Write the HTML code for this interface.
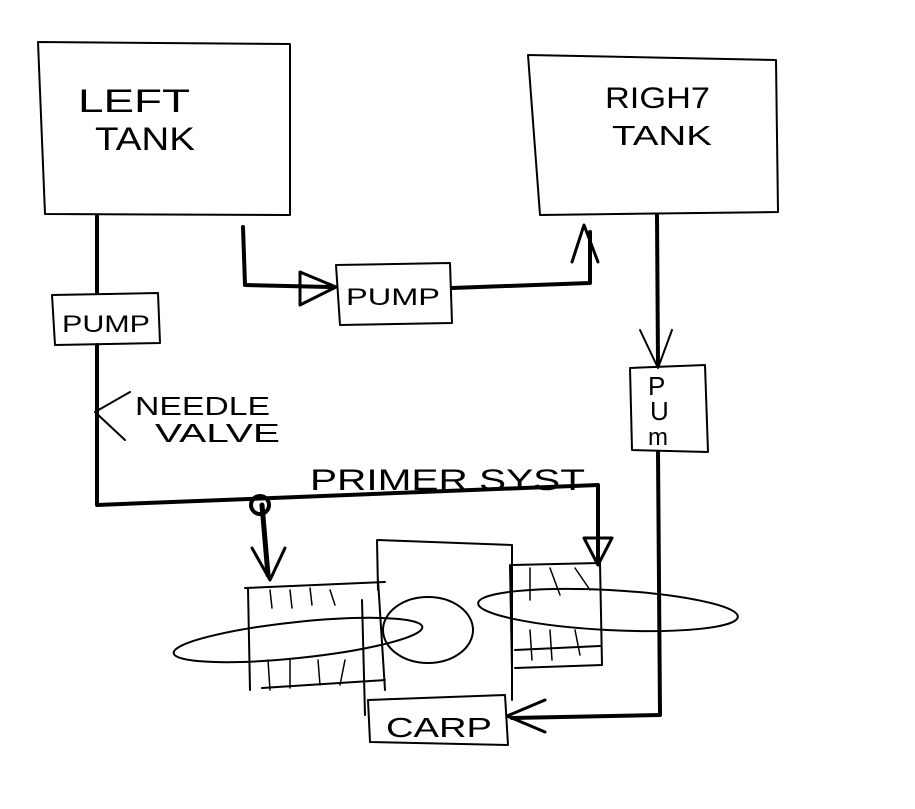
<!DOCTYPE html>
<html><head><style>
html,body{margin:0;padding:0;background:#fff;width:915px;height:809px;overflow:hidden}
svg text{font-family:"Liberation Sans",sans-serif;fill:#000;font-weight:normal}
</style></head><body>
<svg width="915" height="809" viewBox="0 0 915 809" fill="none" stroke="#000" stroke-linecap="round" stroke-linejoin="round">
<!-- tanks -->
<path d="M38 42 L290 44 L290 215 L45 214 Z" stroke-width="2"/>
<path d="M528 55 L776 60 L778 212 L540 215 Z" stroke-width="2"/>
<text x="78" y="112" font-size="32" stroke="none" textLength="112" lengthAdjust="spacingAndGlyphs">LEFT</text>
<text x="95" y="150" font-size="32" stroke="none" textLength="100" lengthAdjust="spacingAndGlyphs">TANK</text>
<text x="605" y="108" font-size="30" stroke="none" textLength="105" lengthAdjust="spacingAndGlyphs">RIGH7</text>
<text x="612" y="145" font-size="28" stroke="none" textLength="100" lengthAdjust="spacingAndGlyphs">TANK</text>
<!-- pumps -->
<path d="M52 295 L158 293 L160 343 L55 345 Z" stroke-width="2"/>
<text x="62" y="332" font-size="24" stroke="none" textLength="88" lengthAdjust="spacingAndGlyphs">PUMP</text>
<path d="M336 265 L450 263 L452 323 L340 325 Z" stroke-width="2"/>
<text x="346" y="305" font-size="24" stroke="none" textLength="94" lengthAdjust="spacingAndGlyphs">PUMP</text>
<path d="M630 368 L705 365 L708 452 L632 450 Z" stroke-width="2"/>
<text x="648" y="395" font-size="26" stroke="none">P</text>
<text x="650" y="420" font-size="26" stroke="none">U</text>
<text x="648" y="445" font-size="24" stroke="none">m</text>
<!-- left line -->
<path d="M97 216 L97 293 M97 345 L97 505 L598 485 L598 560" stroke-width="4"/>
<path d="M130 392 L95 412 L125 440" stroke-width="2"/>
<text x="135" y="415" font-size="26" stroke="none" textLength="135" lengthAdjust="spacingAndGlyphs">NEEDLE</text>
<text x="155" y="442" font-size="26" stroke="none" textLength="125" lengthAdjust="spacingAndGlyphs">VALVE</text>
<text x="310" y="490" font-size="30" stroke="none" textLength="275" lengthAdjust="spacingAndGlyphs">PRIMER SYST</text>
<circle cx="260" cy="505" r="9" stroke-width="4"/>
<path d="M262 505 L268 575" stroke-width="5"/>
<path d="M252 548 L270 580 L285 548" stroke-width="3"/>
<path d="M584 538 L598 565 L612 538 Z" stroke-width="3"/>
<!-- middle line -->
<path d="M243 227 L245 285 L330 287" stroke-width="4"/>
<path d="M300 272 L336 287 L300 305 Z" stroke-width="3"/>
<path d="M452 288 L590 283 L590 232" stroke-width="4"/>
<path d="M572 262 L584 225 L598 262" stroke-width="3"/>
<!-- right line -->
<path d="M657 215 L658 365 M658 452 L660 715 L512 718" stroke-width="4"/>
<path d="M640 330 L658 368 L672 330" stroke-width="2"/>
<path d="M545 700 L507 716 L545 732" stroke-width="3"/>
<!-- carp -->
<path d="M368 700 L505 695 L508 745 L370 742 Z" stroke-width="2"/>
<text x="386" y="737" font-size="28" stroke="none" textLength="106" lengthAdjust="spacingAndGlyphs">CARP</text>
<!-- engine -->
<path d="M377 540 L512 545 L512 700 M377 540 L378 590 M362 600 L365 715" stroke-width="2"/>
<path d="M245 588 L385 582 M248 588 L250 690 M262 688 L385 680 M378 580 L385 690" stroke-width="2"/>
<path d="M270 590 L272 608 M290 590 L292 608 M310 588 L312 605 M330 590 L335 605 M268 660 L270 690 M290 660 L290 688 M318 660 L320 685 M345 660 L340 685" stroke-width="1.5"/>
<path d="M512 565 L600 563 L602 665 L515 668 M510 565 L512 670 M515 650 L600 646" stroke-width="2"/>
<path d="M530 568 L530 600 M550 568 L560 595 M575 568 L590 590 M530 630 L532 660 M550 630 L552 660 M575 630 L580 655" stroke-width="1.5"/>
<ellipse cx="298" cy="640" rx="125" ry="18" transform="rotate(-6 298 640)" stroke-width="2"/>
<ellipse cx="608" cy="610" rx="130" ry="20" transform="rotate(3 608 610)" stroke-width="2"/>
<ellipse cx="428" cy="630" rx="45" ry="33" stroke-width="2"/>
</svg>
</body></html>
